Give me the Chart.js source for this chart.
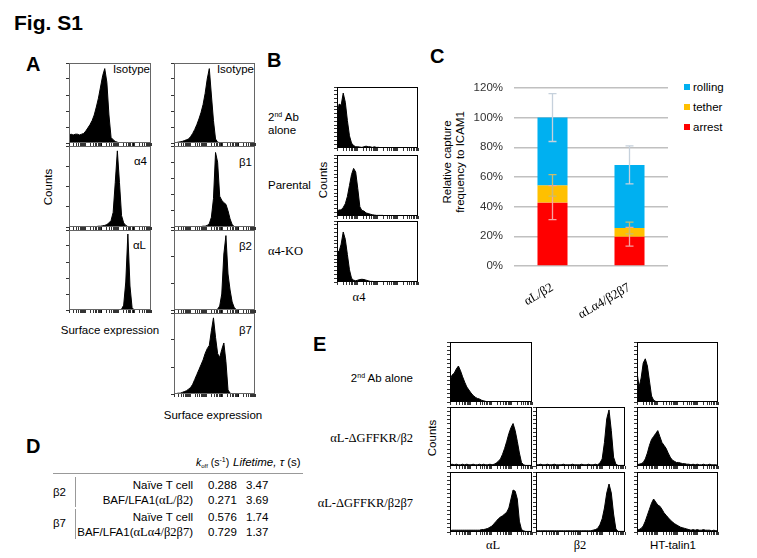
<!DOCTYPE html>
<html lang="en">
<head>
<meta charset="UTF-8">
<title>Fig. S1</title>
<script src="https://cdn.jsdelivr.net/npm/chart.js"></script>
<style>
  body { margin: 0; background: #fff; }
  #fig { position: relative; width: 757px; height: 558px; overflow: hidden;
         font-family: "Liberation Sans", Arial, sans-serif; color: #000; }
  .t { position: absolute; white-space: nowrap; font-size: 11.5px; line-height: 12px; }
  .s { font-family: "Liberation Serif", "Times New Roman", serif; font-size: 12.5px; }
  .lbl { position: absolute; font-weight: bold; font-size: 20px; line-height: 20px; }
  .rot { transform: translate(-50%, -50%) rotate(-90deg); text-align: center; }
  .ctr { transform: translateX(-50%); }
  sup { font-size: 7px; vertical-align: 4px; line-height: 0; }
  sub { font-size: 6px; vertical-align: -2px; line-height: 0; }
  .hl { position: absolute; background: #999; }
  canvas { position: absolute; }
</style>
</head>
<body>
<div id="fig">
  <div class="lbl" style="left:14px;top:12px;font-size:21px;line-height:21px">Fig. S1</div>
  <div class="lbl" style="left:26px;top:54px">A</div>
  <div class="lbl" style="left:267px;top:50px">B</div>
  <div class="lbl" style="left:430px;top:46px">C</div>
  <div class="lbl" style="left:26px;top:436px">D</div>
  <div class="lbl" style="left:313px;top:334px">E</div>

  <!-- A -->
  <div class="t" style="right:607px;top:63px">Isotype</div>
  <div class="t" style="right:503px;top:63px">Isotype</div>
  <div class="t" style="right:610px;top:155px">α4</div>
  <div class="t" style="right:611px;top:239px">αL</div>
  <div class="t" style="right:505px;top:156px">β1</div>
  <div class="t" style="right:505px;top:240px">β2</div>
  <div class="t" style="right:505px;top:324px">β7</div>
  <div class="t rot" style="left:48px;top:187px">Counts</div>
  <div class="t ctr" style="left:110px;top:324px">Surface expression</div>
  <div class="t ctr" style="left:213px;top:409px">Surface expression</div>

  <!-- B -->
  <div class="t" style="left:268px;top:111px">2<sup>nd</sup> Ab</div>
  <div class="t" style="left:268px;top:124px">alone</div>
  <div class="t" style="left:268px;top:179px">Parental</div>
  <div class="t s" style="left:268px;top:245px">α4-KO</div>
  <div class="t rot" style="left:323px;top:180px">Counts</div>
  <div class="t s ctr" style="left:359px;top:291px">α4</div>

  <!-- C -->
  <div class="t rot" style="left:454px;top:162px;line-height:13px">Relative capture<br>frequency to ICAM1</div>
  <div style="position:absolute;left:684px;top:84px;width:6px;height:6px;background:#00b0f0"></div>
  <div style="position:absolute;left:684px;top:104px;width:6px;height:6px;background:#ffc000"></div>
  <div style="position:absolute;left:684px;top:124px;width:6px;height:6px;background:#ff0000"></div>
  <div class="t" style="left:693px;top:81px">rolling</div>
  <div class="t" style="left:693px;top:101px">tether</div>
  <div class="t" style="left:693px;top:121px">arrest</div>
  <canvas id="capture" width="210" height="260" style="left:470px;top:70px"></canvas>

  <!-- D -->
  <div class="t" style="left:196px;top:456px;font-size:10.5px"><i>k</i><sub>off</sub> (s<sup>-1</sup>)</div>
  <div class="t" style="left:233px;top:456px"><i>Lifetime, τ</i> (s)</div>
  <div class="hl" style="left:53px;top:473px;width:250px;height:1px"></div>
  <div class="t" style="right:564px;top:479px">Naïve T cell</div>
  <div class="t" style="right:564px;top:494px">BAF/LFA1(<span class="s">αL/β2</span>)</div>
  <div class="t" style="right:564px;top:511px">Naïve T cell</div>
  <div class="t" style="right:564px;top:526px">BAF/LFA1(<span class="s">αLα4/β2β7</span>)</div>
  <div class="t" style="left:208px;top:479px">0.288</div>
  <div class="t" style="left:208px;top:494px">0.271</div>
  <div class="t" style="left:208px;top:511px">0.576</div>
  <div class="t" style="left:208px;top:526px">0.729</div>
  <div class="t" style="left:246px;top:479px">3.47</div>
  <div class="t" style="left:246px;top:494px">3.69</div>
  <div class="t" style="left:246px;top:511px">1.74</div>
  <div class="t" style="left:246px;top:526px">1.37</div>
  <div class="t" style="left:53px;top:486px">β2</div>
  <div class="t" style="left:53px;top:517px">β7</div>
  <div class="hl" style="left:75px;top:477px;width:1px;height:30px"></div>
  <div class="hl" style="left:75px;top:509px;width:1px;height:30px"></div>

  <!-- E -->
  <div class="t" style="right:344px;top:372px">2<sup>nd</sup> Ab alone</div>
  <div class="t s" style="right:344px;top:432px">αL-ΔGFFKR/β2</div>
  <div class="t s" style="right:344px;top:497px">αL-ΔGFFKR/β2β7</div>
  <div class="t rot" style="left:432px;top:438px">Counts</div>
  <div class="t s ctr" style="left:493px;top:539px">αL</div>
  <div class="t s ctr" style="left:580px;top:539px">β2</div>
  <div class="t ctr" style="left:673px;top:539px">HT-talin1</div>
</div>

<script>
  // panel C: capture frequency (%)
  const categories = ['αL/β2', 'αLα4/β2β7'];
  const arrest = [42.7, 19.7];
  const tether = [11.6, 5.9];
  const rolling = [45.7, 42.5];
  const arrestErr = [11.4, 6.3];
  const tetherErr = [7.2, 4.0];
  const rollingErr = [16.1, 12.8];

  // histograms, 40 bins each, % of plot height
  const aIsoL = [10,11,10,11,11,10,11,12,15,19, 23,28,35,45,56,70,84,93,76,35, 7,4,2,1,0,0,0,0,0,0, 0,0,0,0,0,0,0,0,0,0];
  const aA4   = [0,0,0,0,0,0,0,0,0,0, 0,0,0,0.5,1,1,1.5,2,3,5, 8,18,55,94,55,14,5,2,0.5,0, 0,0,0,0,0,0,0,0,0,0];
  const aAL   = [0,0,0,0,0,0,0,0,0,0, 0,0,0,0,0,0,0,0,0,0, 0,0,0,0,0,1,6,35,95,30, 3,0,0,0,0,0,0,0,0,0];
  const aIsoR = [0,0.5,1,1.5,2,3,4,5,8,12, 17,23,30,38,48,62,80,93,60,28, 5,1,0.5,0,0,0,0,0,0,0, 0,0,0,0,0,0,0,0,0,0];
  const aB1   = [0,0,0,0,0,0,0,0,0,0, 0,0,0,0.5,1,1,2,4,12,35, 92,80,38,33,30,28,20,10,3,0.5, 0,0,0,0,0,0,0,0,0,0];
  const aB2   = [0,0,0,0,0,0,0,0,0,0, 0,0,0,0,0,0,0,0,0,0, 0,1,5,20,70,93,45,25,10,3, 0.5,0,0,0,0,0,0,0,0,0];
  const aB7   = [0,0.5,1,1,2,3,4,6,8,12, 18,24,30,36,42,50,56,60,78,94, 70,50,45,55,63,40,5,1,0,0, 0,0,0,0,0,0,0,0,0,0];

  const bAb   = [50,72,70,90,75,45,20,8,4,2, 2,1.5,1,2,3,2,2,1,2,1, 1,0.5,0.5,0.5,0,0,0,0,0,0, 0,0,0,0,0,0,0,0,0,0];
  const bPar  = [8,10,10,14,20,32,50,68,78,72, 45,15,9,8,5,4,3,2,1.5,1, 1,1,1,0.5,0.5,0,0,0,0,0, 0,0,0,0,0,0,0,0,0,0];
  const bKO   = [50,50,62,82,70,45,20,6,3,2, 3,4,4.5,4,3,2,1,1,0.5,0.5, 0,0,0,0,0,0,0,0,0,0, 0,0,0,0,0,0,0,0,0,0];

  const eAbL  = [35,45,48,55,60,52,42,33,25,20, 15,11,8,6,5,3,2,1,0.5,0, 0,0,0,0,0,0,0,0,0,0, 0,0,0,0,0,0,0,0,0,0];
  const eAbT  = [50,25,40,65,72,60,35,10,3,1, 0.5,0,0,0.5,0,0,0.5,0,0,0, 0.5,0,0,0,0.5,0,0,0,0,0.5, 0,0,0,0,0,0,0,0,0,0];
  const eL2   = [2,3,2,3,2,2,3,2,3,2, 2,3,2,2,3,2,3,2,2,3, 2,3,5,8,12,20,30,42,55,65, 72,60,42,22,6,2,1,1,1,1];
  const eB2   = [2,2,3,2,2,3,2,2,3,2, 2,2,3,2,2,2,3,2,2,2, 3,2,2,3,2,2,3,2,5,12, 40,80,95,60,15,3,1,1,1,1];
  const eT2   = [2,3,4,6,12,22,35,45,50,55, 60,50,40,35,30,22,15,10,8,6, 6,5,4,4,3,3,2,3,2,3, 2,2,3,2,2,3,2,2,2,1];
  const eL3   = [2,3,3,3,3,3,3,3,3,3, 3,3,3,3,3,4,4,5,6,8, 10,14,18,22,25,27,30,33,40,55, 70,68,55,18,4,2,1,1,1,1];
  const eB3   = [2,2,2,2,2,2,2,2,2,2, 2,2,2,2,2,2,2,2,2,2, 2,2,2,2,2,3,4,6,12,22, 40,65,80,65,30,5,1,1,1,1];
  const eT3   = [3,4,6,10,18,28,38,48,55,50, 45,43,38,32,28,24,20,17,14,12, 10,8,7,6,5,4,3,4,3,4, 3,3,4,3,3,3,2,3,2,2];

  const fig = document.getElementById('fig');
  const bins = aIsoL.map((_, i) => i);

  // minor ticks laid out like a log axis
  function logTicks(decades) {
    const out = [];
    for (let d = 0; d < decades; d++)
      for (let k = 1; k <= 9; k++) out.push((d + Math.log10(k)) * 39 / decades);
    out.push(39);
    return out.map(v => ({ value: v }));
  }

  const frame = {
    id: 'frame',
    afterDraw(chart, args, opts) {
      const a = chart.chartArea, ctx = chart.ctx;
      ctx.save();
      ctx.strokeStyle = opts.color;
      ctx.lineWidth = 1;
      ctx.strokeRect(a.left + 0.5, a.top + 0.5, a.right - a.left - 1, a.bottom - a.top - 1);
      ctx.restore();
    }
  };

  function hist(x, y, w, h, values, decades, yCount, frameColor) {
    const cv = document.createElement('canvas');
    cv.width = w + 5; cv.height = h + 5;
    cv.style.left = (x - 4) + 'px';
    cv.style.top = (y - 1) + 'px';
    fig.appendChild(cv);
    const tickGrid = { drawOnChartArea: false, drawTicks: true, tickLength: 3, color: '#000', lineWidth: 0.8 };
    new Chart(cv, {
      type: 'line',
      data: { labels: bins, datasets: [{ data: values, fill: 'origin', backgroundColor: '#000',
              borderColor: '#000', borderWidth: 1, pointRadius: 0, tension: 0 }] },
      options: {
        responsive: false, animation: false, events: [],
        layout: { padding: { top: 1, right: 1 } },
        plugins: { legend: { display: false }, tooltip: { enabled: false }, frame: { color: frameColor } },
        scales: {
          x: { type: 'linear', min: 0, max: 39, grid: tickGrid, border: { display: false },
               ticks: { display: false },
               afterBuildTicks: s => { s.ticks = logTicks(decades); },
               afterFit: s => { s.height = 4; } },
          y: { min: 0, max: 100, grid: tickGrid, border: { display: false },
               ticks: { display: false },
               afterBuildTicks: s => { s.ticks = Array.from({ length: yCount + 1 }, (_, i) => ({ value: i * 100 / yCount })); },
               afterFit: s => { s.width = 4; } }
        }
      },
      plugins: [frame]
    });
  }

  // A
  hist(69, 63, 82, 80, aIsoL, 5, 5, '#666');
  hist(69, 146, 82, 81, aA4, 5, 4, '#666');
  hist(69, 230, 82, 80, aAL, 5, 5, '#666');
  hist(174, 63, 81, 80, aIsoR, 5, 5, '#666');
  hist(174, 146, 81, 81, aB1, 5, 5, '#666');
  hist(174, 230, 81, 80, aB2, 5, 3, '#666');
  hist(174, 313, 81, 81, aB7, 5, 3, '#666');
  // B
  hist(337, 87, 81, 61, bAb, 4, 16, '#000');
  hist(337, 155, 81, 61, bPar, 4, 16, '#000');
  hist(337, 221, 81, 61, bKO, 4, 16, '#000');
  // E
  hist(450, 342, 82, 60, eAbL, 4, 14, '#000');
  hist(637, 342, 81, 60, eAbT, 4, 14, '#000');
  hist(450, 407, 82, 59, eL2, 4, 14, '#000');
  hist(536, 407, 89, 59, eB2, 4, 14, '#000');
  hist(637, 407, 81, 59, eT2, 4, 14, '#000');
  hist(450, 472, 82, 60, eL3, 4, 14, '#000');
  hist(536, 472, 89, 60, eB3, 4, 14, '#000');
  hist(637, 472, 81, 60, eT3, 4, 14, '#000');

  // error bars on top of each stacked segment
  const errorBars = {
    id: 'errorBars',
    afterDatasetsDraw(chart) {
      const ctx = chart.ctx, ys = chart.scales.y;
      const sets = [[arrest, arrestErr, '#f5a3a3'], [tether, tetherErr, '#c9bd6e'], [rolling, rollingErr, '#c6d1dc']];
      let base = categories.map(() => 0);
      ctx.save();
      ctx.lineWidth = 1.3;
      sets.forEach(([vals, errs, col], di) => {
        const meta = chart.getDatasetMeta(di);
        ctx.strokeStyle = col;
        vals.forEach((v, j) => {
          const top = base[j] + v, x = meta.data[j].x;
          const y1 = ys.getPixelForValue(top + errs[j]), y2 = ys.getPixelForValue(top - errs[j]);
          ctx.beginPath();
          ctx.moveTo(x, y1); ctx.lineTo(x, y2);
          ctx.moveTo(x - 4, y1); ctx.lineTo(x + 4, y1);
          ctx.moveTo(x - 4, y2); ctx.lineTo(x + 4, y2);
          ctx.stroke();
        });
        base = base.map((b, j) => b + vals[j]);
      });
      ctx.restore();
    }
  };

  new Chart(document.getElementById('capture'), {
    type: 'bar',
    data: {
      labels: categories,
      datasets: [
        { label: 'arrest', data: arrest, backgroundColor: '#ff0000' },
        { label: 'tether', data: tether, backgroundColor: '#ffc000' },
        { label: 'rolling', data: rolling, backgroundColor: '#00b0f0' }
      ]
    },
    options: {
      responsive: false, animation: false, events: [],
      layout: { padding: { top: 13, right: 12 } },
      datasets: { bar: { categoryPercentage: 1, barPercentage: 0.39 } },
      plugins: { legend: { display: false }, tooltip: { enabled: false } },
      scales: {
        x: { stacked: true, grid: { display: false }, border: { display: false },
             ticks: { color: '#000', maxRotation: 30, minRotation: 30, padding: 6,
                      font: { family: '"Liberation Serif", "Times New Roman", serif', size: 13 } },
             afterFit: s => { s.height = 64; } },
        y: { stacked: true, min: 0, max: 120,
             grid: { color: '#c0c0c0', lineWidth: 1.5, drawTicks: false }, border: { display: false },
             ticks: { stepSize: 20, padding: 11, color: '#333', callback: v => v + '%',
                      font: { family: '"Liberation Sans", Arial, sans-serif', size: 11.5 } },
             afterFit: s => { s.width = 44; } }
      }
    },
    plugins: [errorBars]
  });
</script>
</body>
</html>
